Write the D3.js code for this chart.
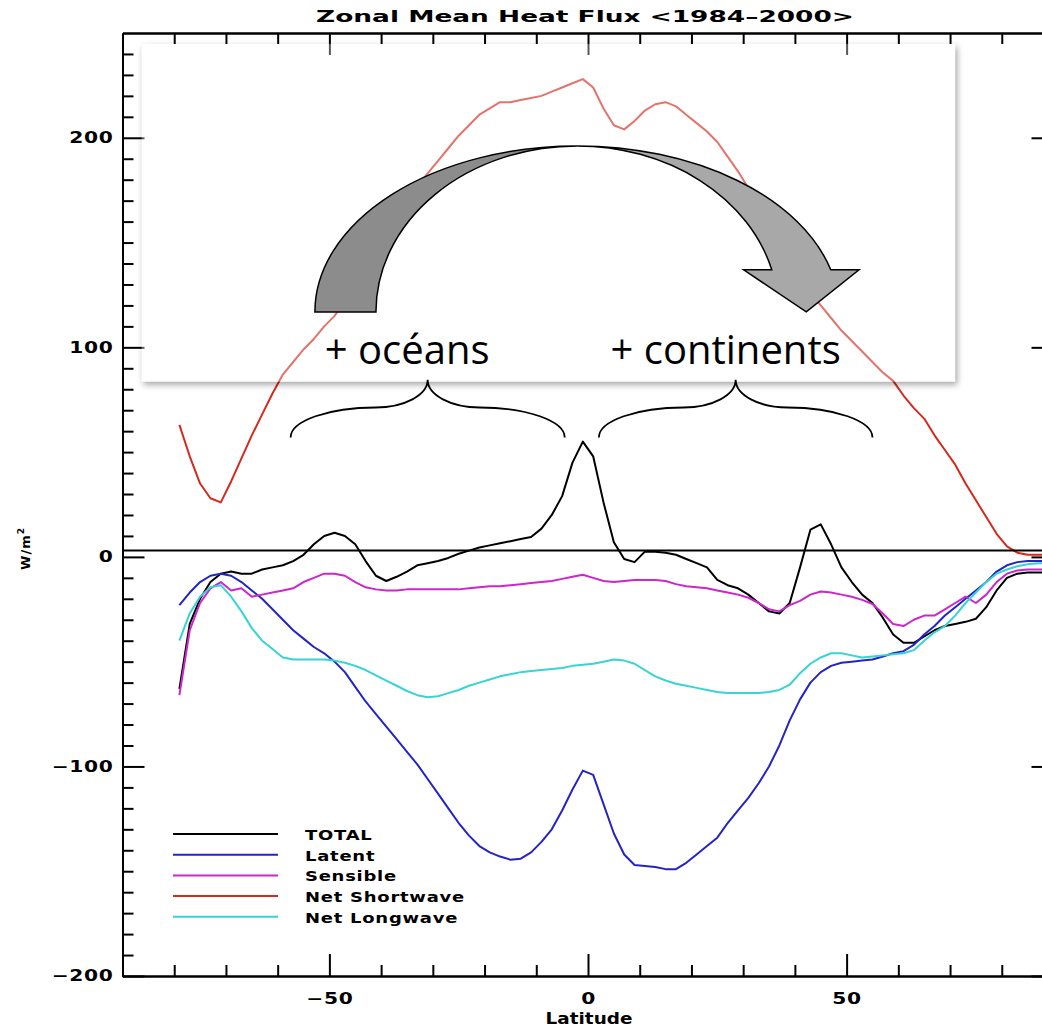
<!DOCTYPE html>
<html><head><meta charset="utf-8">
<script src="https://cdn.jsdelivr.net/npm/d3@7"></script>
<style>body{margin:0;background:#fff;}</style>
</head><body>
<svg id="chart" width="1042" height="1028"></svg>
<script>
// ---------------- DATA ----------------
const latitudes = [
 -79,-77,-75,-73,-71,-69,-67,-65,-63,-61,
 -59,-57,-55,-53,-51,-49,-47,-45,-43,-41,
 -39,-37,-35,-33,-31,-29,-27,-25,-23,-21,
 -19,-17,-15,-13,-11,-9,-7,-5,-3,-1,
 1,3,5,7,9,11,13,15,17,19,
 21,23,25,27,29,31,33,35,37,39,
 41,43,45,47,49,51,53,55,57,59,
 61,63,65,67,69,71,73,75,77,79,
 81,83,85,87,89];
const total = [
 -63,-32,-20,-12,-8,-7,-8,-8,-6,-5,
 -4,-2,1,6,10,11.5,10,6,-2,-9,
 -11.5,-9.5,-7,-4,-3,-2,-0.5,1.5,3,4.5,
 5.5,6.5,7.5,8.5,9.5,13.5,20,29,45,55,
 48,26,7,-1,-2.5,2.5,2.5,2,1,-1,
 -3,-5,-11,-13.5,-15,-18,-22,-26,-27,-22,
 -5,13,15.5,6,-5,-12,-18,-22,-29,-37,
 -41,-41,-38,-35,-33,-32,-31,-29.5,-24,-16,
 -10,-8,-7.5,-7.5,-7.5];
const latent = [
 -23,-17,-12,-9,-8,-9,-12,-16,-20,-25,
 -30,-35,-39,-43,-46,-50,-55,-62,-69,-75,
 -81,-87,-93,-99,-106,-113,-120,-127,-133,-138,
 -141,-143,-144.5,-144,-141,-136,-130,-121,-111,-102,
 -104,-118,-132,-142,-147,-147.5,-148,-149,-149,-146,
 -142,-138,-134,-127,-121,-115,-108,-100,-90,-78,
 -68,-60,-55,-52,-50.5,-50,-49.5,-49,-47.5,-46,
 -45,-42,-37,-33,-28,-24,-20,-16,-12,-7,
 -4,-2.5,-2,-2,-2];
const sensible = [
 -66,-35,-22,-15,-12,-16,-15,-19,-18,-17,
 -16,-15,-12,-10,-8,-8,-9,-12,-14.5,-15.5,
 -16,-16,-15.5,-15.5,-15.5,-15.5,-15.5,-15.5,-15,-14.5,
 -14,-14,-13.5,-13,-12.5,-12,-11.5,-10.5,-9.5,-8.5,
 -10,-11.5,-12,-11.5,-11,-11,-11,-11.5,-13,-14,
 -14.5,-15,-16,-17,-18,-19.5,-22,-25,-26,-23,
 -21,-18,-16.5,-17,-18,-19,-20.5,-22.5,-27,-32,
 -33,-30,-28,-28,-25,-22,-19,-22,-18,-12,
 -8,-6.5,-6,-6,-6];
const shortwave = [
 63,48,35,28,26,36,47,58,68,78,
 87,93,99,104,110,115,122,130,138,146,
 154,162,170,177,183,189,195,201,206,211,
 214,217,217,218,219,220,222,224,226,228,
 224,214,206,204,208,213,216,217,215,211,
 207,203,198,191,184,176,168,158,150,141,
 133,126,120,114,108,103,98,93,88,84,
 77,71,66,58,51,44,35,27,19,11,
 5,2,1,1,1];
const longwave = [
 -40,-27,-19,-14.5,-13.5,-19,-26,-34,-40,-44,
 -48,-49,-49,-49,-49,-49.5,-50.5,-52,-54,-56.5,
 -59,-61.5,-64,-66,-67,-66.5,-65,-63.5,-61.5,-60,
 -58.5,-57,-56,-55,-54.5,-54,-53.5,-53,-52,-51.5,
 -51,-50,-49,-49.5,-51,-54,-57,-59,-60.5,-61.5,
 -62.5,-63.5,-64.5,-65,-65,-65,-65,-64.5,-63.5,-61,
 -55.5,-51,-48,-46,-46,-47,-48,-47.5,-47,-46.5,
 -46,-44.5,-40,-36,-33,-28,-22,-17,-12,-8,
 -6,-4.5,-3.5,-3,-3];
const seriesNames = ["TOTAL", "Latent", "Sensible", "Net Shortwave", "Net Longwave"];
const seriesValues = [total, latent, sensible, shortwave, longwave];
const xMajorTicks = [-50, 0, 50];
const yMajorTicks = [-200, -100, 0, 100, 200];
const titleText = "Zonal Mean Heat Flux <1984\u20132000>";
const xLabel = "Latitude";
const oceanLabel = "+ océans";
const continentLabel = "+ continents";

// ---------------- STYLE / LAYOUT ----------------
const colors = ["#000000", "#2424c4", "#cc26cc", "#d42a1e", "#38d4d4"];
const W = 1042, H = 1028;
const x = d3.scaleLinear().domain([-90, 90]).range([122.5, 1053.5]);
const y = d3.scaleLinear().domain([-200, 250]).range([976, 33]);
const tickFont = "DejaVu Sans";
const glyphStretch = 1.35;   // wide, plotter-like lettering

const svg = d3.select("#chart");
svg.append("rect").attr("width", W).attr("height", H).attr("fill", "#fff");

const defs = svg.append("defs");
defs.append("clipPath").attr("id", "plotclip").append("rect")
  .attr("x", x(-90)).attr("y", y(250)).attr("width", x(90) - x(-90)).attr("height", y(-200) - y(250));
const f = defs.append("filter").attr("id", "shadow").attr("x", "-5%").attr("y", "-5%").attr("width", "115%").attr("height", "125%");
f.append("feGaussianBlur").attr("in", "SourceAlpha").attr("stdDeviation", 3);
f.append("feOffset").attr("dx", 2).attr("dy", 3).attr("result", "b");
f.append("feComposite").attr("in", "b").attr("in2", "SourceAlpha").attr("operator", "out").attr("result", "o");
f.append("feColorMatrix").attr("in", "o").attr("type", "matrix")
  .attr("values", "0 0 0 0 0  0 0 0 0 0  0 0 0 0 0  0 0 0 0.35 0");

// stretch a text horizontally around its anchor point
function stretch(sel, sx) {
  sel.each(function () {
    const t = d3.select(this);
    const x0 = +t.attr("x") || 0;
    t.attr("x", x0 / sx).attr("transform", `scale(${sx},1)`);
  });
}

// ---------------- AXES ----------------
const xMinor = d3.range(-80, 90, 10).filter(v => !xMajorTicks.includes(v));
const yMinor = d3.range(-190, 250, 10).filter(v => !yMajorTicks.includes(v));

function styleAxis(g) {
  g.select(".domain").attr("stroke", "#000").attr("stroke-width", 2);
  g.selectAll(".tick line").attr("stroke", "#000").attr("stroke-width", 2);
  g.selectAll(".tick text").attr("font-family", tickFont).attr("font-weight", "bold")
    .attr("font-size", 15).attr("letter-spacing", 0.5).attr("fill", "#000");
}
// bottom
svg.append("g").attr("transform", `translate(0,${y(-200)})`)
  .call(d3.axisBottom(x).tickValues(xMinor).tickSize(-11).tickSizeOuter(0).tickFormat("")).call(styleAxis);
svg.append("g").attr("transform", `translate(0,${y(-200)})`)
  .call(d3.axisBottom(x).tickValues(xMajorTicks).tickSize(-22).tickSizeOuter(0).tickPadding(17)).call(styleAxis)
  .selectAll(".tick text").call(stretch, glyphStretch);
// top
svg.append("g").attr("transform", `translate(0,${y(250)})`)
  .call(d3.axisTop(x).tickValues(xMinor).tickSize(-11).tickSizeOuter(0).tickFormat("")).call(styleAxis);
svg.append("g").attr("transform", `translate(0,${y(250)})`)
  .call(d3.axisTop(x).tickValues(xMajorTicks).tickSize(-22).tickSizeOuter(0).tickFormat("")).call(styleAxis);
// left
svg.append("g").attr("transform", `translate(${x(-90)},0)`)
  .call(d3.axisLeft(y).tickValues(yMinor).tickSize(-11).tickSizeOuter(0).tickFormat("")).call(styleAxis);
svg.append("g").attr("transform", `translate(${x(-90)},0)`)
  .call(d3.axisLeft(y).tickValues(yMajorTicks).tickSize(-22).tickSizeOuter(0).tickPadding(9)).call(styleAxis)
  .selectAll(".tick text").call(stretch, glyphStretch);
// right
svg.append("g").attr("transform", `translate(${x(90)},0)`)
  .call(d3.axisRight(y).tickValues(yMinor).tickSize(-11).tickSizeOuter(0).tickFormat("")).call(styleAxis);
svg.append("g").attr("transform", `translate(${x(90)},0)`)
  .call(d3.axisRight(y).tickValues(yMajorTicks).tickSize(-22).tickSizeOuter(0).tickFormat("")).call(styleAxis);

// title, scaled to its measured span
const tg = svg.append("g").attr("transform", "translate(585,22)");
const tt = tg.append("text").attr("text-anchor", "middle").attr("font-family", tickFont)
  .attr("font-weight", "bold").attr("font-size", 16.5).text(titleText);
tt.attr("transform", `scale(${538 / tt.node().getComputedTextLength()},1)`);

const xg = svg.append("g").attr("transform", `translate(${x(0) + 1},1024)`);
const xt = xg.append("text").attr("text-anchor", "middle").attr("font-family", tickFont)
  .attr("font-weight", "bold").attr("font-size", 15).text(xLabel);
xt.attr("transform", `scale(${87 / xt.node().getComputedTextLength()},1)`);

const yl = svg.append("text").attr("transform", `translate(30,${y(4)}) rotate(-90)`).attr("text-anchor", "middle")
  .attr("font-family", tickFont).attr("font-weight", "bold").attr("font-size", 13).attr("letter-spacing", 1);
yl.append("tspan").text("W/m");
yl.append("tspan").attr("dy", -6).attr("font-size", 9).text("2");

// ---------------- SERIES ----------------
const line = d3.line().x(d => x(d[0])).y(d => y(d[1]));
const plot = svg.append("g").attr("clip-path", "url(#plotclip)");
seriesValues.forEach((vals, i) => {
  plot.append("path").datum(latitudes.map((la, j) => [la, vals[j]]))
    .attr("fill", "none").attr("stroke", colors[i]).attr("stroke-width", 2)
    .attr("stroke-linejoin", "round").attr("d", line);
});
// reference line
svg.append("line").attr("x1", x(-90)).attr("x2", W).attr("y1", y(3)).attr("y2", y(3))
  .attr("stroke", "#000").attr("stroke-width", 2);

// ---------------- LEGEND ----------------
const lg = svg.append("g");
let legendScale = null;
seriesNames.forEach((n, i) => {
  const ly = 834 + i * 20.7;
  lg.append("line").attr("x1", 173).attr("x2", 278).attr("y1", ly).attr("y2", ly)
    .attr("stroke", colors[i]).attr("stroke-width", 2);
  const t = lg.append("g").attr("transform", `translate(305,${ly + 6})`)
    .append("text").attr("font-family", tickFont).attr("font-weight", "bold")
    .attr("font-size", 14.5).attr("letter-spacing", 0.6).text(n);
  if (legendScale === null && n === "Net Shortwave") legendScale = 160 / t.node().getComputedTextLength();
});
lg.selectAll("text").attr("transform", `scale(${legendScale || 1.25},1)`);

// ---------------- ANNOTATIONS ----------------
// highlight box (data coordinates)
const box = {lat0: -86.3, lat1: 71, v0: 244.8, v1: 83.6};
svg.append("rect").attr("x", x(box.lat0)).attr("y", y(box.v0))
  .attr("width", x(box.lat1) - x(box.lat0)).attr("height", y(box.v1) - y(box.v0))
  .attr("fill", "#fff").attr("filter", "url(#shadow)");
svg.append("rect").attr("x", x(box.lat0)).attr("y", y(box.v0))
  .attr("width", x(box.lat1) - x(box.lat0)).attr("height", y(box.v1) - y(box.v0))
  .attr("fill", "#fff").attr("fill-opacity", 0.35);

// curved arrow (data coordinates)
const arc = {clat: -2.1, base: 116.9, top: 196.1, outer: 50.7, inner: 38.9, headV: 137,
             headL: 30.1, headR: 52.4, tipLat: 42.2};
const cx = x(arc.clat), cyp = y(arc.base), ry = cyp - y(arc.top);
const rxo = x(arc.clat + arc.outer) - cx, rxi = x(arc.clat + arc.inner) - cx;
const hy = y(arc.headV), dyh = cyp - hy, k = Math.sqrt(1 - (dyh / ry) ** 2);
const rightPath = `M${cx},${cyp - ry} A${rxo},${ry} 0 0 1 ${cx + rxo * k},${hy}
  L${x(arc.headR)},${hy} L${x(arc.tipLat)},${cyp} L${x(arc.headL)},${hy} L${cx + rxi * k},${hy}
  A${rxi},${ry} 0 0 0 ${cx},${cyp - ry} Z`;
const leftPath = `M${cx - rxo},${cyp} A${rxo},${ry} 0 0 1 ${cx},${cyp - ry}
  A${rxi},${ry} 0 0 0 ${cx - rxi},${cyp} Z`;
svg.append("path").attr("d", rightPath).attr("fill", "#a8a8a8").attr("stroke", "#000").attr("stroke-width", 1.5).attr("stroke-linejoin", "miter");
svg.append("path").attr("d", leftPath).attr("fill", "#8c8c8c").attr("stroke", "#000").attr("stroke-width", 1.5);

// labels
svg.append("text").attr("x", x(-50.9)).attr("y", y(92)).attr("font-family", "Open Sans")
  .attr("font-size", 40).attr("fill", "#000").text(oceanLabel);
svg.append("text").attr("x", x(4.35)).attr("y", y(92)).attr("font-family", "Open Sans")
  .attr("font-size", 40).attr("fill", "#000").text(continentLabel);

// braces
const braces = [{from: -57.5, to: -4.5}, {from: 2.1, to: 55}];
const braceV = {end: 57, mid: 71.3, tip: 84.5};
braces.forEach(b => {
  const x0 = x(b.from), x1 = x(b.to), xm = (x0 + x1) / 2;
  const ye = y(braceV.end), yh = y(braceV.mid), yt = y(braceV.tip);
  const w = xm - x0, w1 = w * 0.62, w2 = w - w1, c = 0.552;
  const p = `M${x0},${ye} C${x0},${ye - (ye - yh) * c} ${x0 + w1 * (1 - c)},${yh} ${x0 + w1},${yh}
    C${x0 + w1 + w2 * c},${yh} ${xm},${yh - (yh - yt) * (1 - c)} ${xm},${yt}
    C${xm},${yh - (yh - yt) * (1 - c)} ${x1 - w1 - w2 * c},${yh} ${x1 - w1},${yh}
    C${x1 - w1 * (1 - c)},${yh} ${x1},${ye - (ye - yh) * c} ${x1},${ye}`;
  svg.append("path").attr("d", p).attr("fill", "none").attr("stroke", "#000").attr("stroke-width", 1.8);
});
</script>
</body></html>
